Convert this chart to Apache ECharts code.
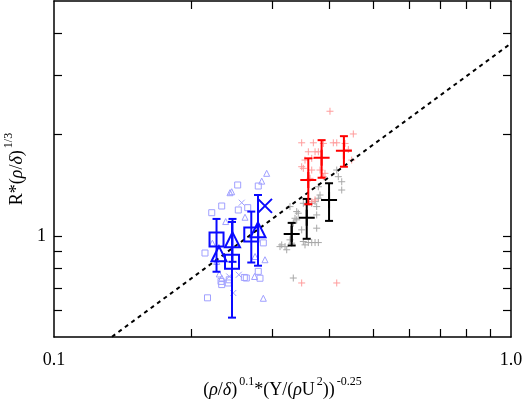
<!DOCTYPE html>
<html><head><meta charset="utf-8">
<script src="https://cdn.jsdelivr.net/npm/echarts@6/dist/echarts.min.js"></script>
<style>html,body{margin:0;padding:0;background:#fff}#c{width:525px;height:399px}</style>
</head><body><div id="c"></div>
<script>
// ---- axis settings ----
const xRange = [0.1, 1.0];
const yRange = [0.5, 5];
const xTickValues = [0.2, 0.3, 0.4, 0.5, 0.6, 0.7, 0.8, 0.9];
const yTickValues = [0.6, 0.7, 0.8, 0.9, 1, 2, 3, 4];
const xLabelValues = [0.1, 1.0];
const xLabelTexts = ['0.1', '1.0'];
const yLabelValues = [1];
const yLabelTexts = ['1'];

// ---- dashed fit line ----
const fitLine = [[0.1, 0.374], [1.0, 3.74]];

// ---- small light markers ----
const blueSmallSquares = [[0.2799,1.407],[0.2523,1.417],[0.2328,1.227],[0.2531,1.194],[0.2654,1.213],[0.2214,1.172],
  [0.214,0.889],[0.2871,0.953],[0.232,0.732],[0.2328,0.716],[0.2418,0.740],[0.2406,0.724],[0.2609,0.752],
  [0.2635,0.749],[0.2799,0.784],[0.2823,0.748],[0.2167,0.654]];
const blueSmallTriangles = [[0.292,1.535],[0.2848,1.455],[0.2427,1.344],[0.2448,1.353],[0.2618,1.136],[0.2375,1.103],
  [0.2221,0.951],[0.2895,0.849],[0.2754,0.868],[0.23,0.770],[0.2328,0.749],[0.2747,0.757],[0.2871,0.652],[0.227,0.839]];
const blueSmallCrosses = [[0.2575,1.255],[0.2418,0.757],[0.2537,0.766],[0.2468,0.676]];
const graySmallPlus = [[0.4262,1.449],[0.4262,1.369],[0.4189,1.500],[0.4156,1.570],[0.3788,1.400],[0.382,1.323],
  [0.3788,1.294],[0.3664,1.250],[0.3726,1.264],[0.3757,1.222],[0.3397,1.181],[0.3424,1.168],[0.3284,1.222],
  [0.3368,1.128],[0.3397,1.116],[0.3757,1.154],[0.3339,1.091],[0.3757,1.054],[0.3483,1.042],[0.315,0.940],
  [0.3203,0.929],[0.323,0.909],[0.3123,0.929],[0.3284,0.973],[0.3312,0.951],[0.3512,0.962],[0.3542,0.940],
  [0.3602,0.955],[0.3664,0.955],[0.3726,0.955],[0.3788,0.955],[0.3339,0.749],[0.3512,1.25],[0.3573,1.236]];
const redSmallPlus = [[0.4017,2.349],[0.4518,2.01],[0.3483,1.892],[0.3694,1.892],[0.3885,1.884],[0.4085,1.892],
  [0.4156,1.892],[0.4334,1.884],[0.3602,1.779],[0.3726,1.779],[0.3788,1.779],[0.4406,1.808],[0.3542,1.681],
  [0.3664,1.701],[0.4481,1.681],[0.3512,1.588],[0.3483,1.606],[0.3664,1.57],[0.382,1.57],[0.3917,1.535],
  [0.3885,1.5],[0.3602,1.466],[0.3633,1.483],[0.3664,1.264],[0.3726,1.279],[0.3483,0.724],[0.4156,0.724]];

// ---- binned markers with error bars: [x, low, high] ----
const blueSquares = [[0.2268,0.976],[0.2452,0.837],[0.2702,1.010]];
const blueTriangles = [[0.2296,0.884],[0.2458,0.973],[0.2795,1.042]];
const blueCrosses = [[0.2895,1.228]];
const blueErr = [[0.2268,0.782,1.123],[0.2452,0.571,1.100],[0.2702,0.833,1.181],[0.2458,0.837,1.123],[0.2795,0.815,1.323]];
const blackPlus = [[0.3312,1.012],[0.3573,1.133],[0.3998,1.279]];
const blackErr = [[0.3312,0.936,1.093],[0.3573,0.980,1.288],[0.3998,1.108,1.434]];
const redPlus = [[0.3601,1.466],[0.3851,1.708],[0.4309,1.791]];
const redErr = [[0.3601,1.242,1.701],[0.3851,1.489,1.927],[0.4309,1.606,1.980]];

const FONT = '"Liberation Serif", "Times New Roman", serif';
const PLUS = 'path://M5,0L5,10M0,5L10,5';
const CROSS = 'path://M0,0L10,10M10,0L0,10';

function scatter(name, data, symbol, size, color, lw, z) {
  return {type:'scatter', name, data, symbol, symbolSize:size, z, silent:true,
    itemStyle:{color:'rgba(0,0,0,0)', borderColor:color, borderWidth:lw, opacity:1}};
}
function errSeries(name, data, color, cap, z) {
  return {type:'custom', name, data, z, silent:true, encode:{x:0, y:[1,2]},
    renderItem:(params, api) => {
      const x = api.value(0), lo = api.value(1), hi = api.value(2);
      const p1 = api.coord([x, lo]), p2 = api.coord([x, hi]);
      const style = {stroke:color, lineWidth:2, fill:null};
      return {type:'group', children:[
        {type:'line', shape:{x1:p1[0], y1:p1[1], x2:p2[0], y2:p2[1]}, style},
        {type:'line', shape:{x1:p1[0]-cap, y1:p1[1], x2:p1[0]+cap, y2:p1[1]}, style},
        {type:'line', shape:{x1:p2[0]-cap, y1:p2[1], x2:p2[0]+cap, y2:p2[1]}, style}]};
    }};
}
const richStyle = {
  g:{fontFamily:FONT, fontSize:18, color:'#000', padding:[5,0,0,0]},
  i:{fontFamily:FONT, fontSize:18, color:'#000', fontStyle:'italic', padding:[5,0,0,0]},
  s:{fontFamily:FONT, fontSize:12, color:'#000', verticalAlign:'top', padding:[0,0,0,2]}
};
function mkX(pos, show) {
  return {type:'log', logBase:10, position:pos, min:xRange[0], max:xRange[1],
    axisLine:{show:true, onZero:false, lineStyle:{color:'#000', width:1.5}},
    axisTick:{show:true, inside:true, length:8, customValues:xTickValues, lineStyle:{color:'#000', width:1.2}},
    axisLabel:{show:show, customValues:xLabelValues, margin:14, fontFamily:FONT, fontSize:18, color:'#000',
      formatter:(v)=>{const i = xLabelValues.findIndex(t=>Math.abs(t-v)<1e-6); return i>=0?xLabelTexts[i]:'';}},
    splitLine:{show:false}, minorTick:{show:false},
    name: show ? '{g|(}{i|ρ}{g|/}{i|δ}{g|)}{s|0.1}{g|*(Y/(}{i|ρ}{g|U}{s|2}{g|))}{s|-0.25}' : '',
    nameLocation:'middle', nameGap:39,
    nameTextStyle:{fontFamily:FONT, fontSize:18, color:'#000', rich:richStyle}};
}
function mkY(pos, show) {
  return {type:'log', logBase:10, position:pos, min:yRange[0], max:yRange[1],
    axisLine:{show:true, onZero:false, lineStyle:{color:'#000', width:1.5}},
    axisTick:{show:true, inside:true, length:8, customValues:yTickValues, lineStyle:{color:'#000', width:1.2}},
    axisLabel:{show:show, customValues:yLabelValues, margin:8, fontFamily:FONT, fontSize:18, color:'#000',
      formatter:(v)=>{const i = yLabelValues.findIndex(t=>Math.abs(t-v)<1e-6); return i>=0?yLabelTexts[i]:'';}},
    splitLine:{show:false}, minorTick:{show:false},
    name: show ? '{g|R*(}{i|ρ}{g|/}{i|δ}{g|)}{s|1/3}' : '',
    nameLocation:'middle', nameGap:25, nameRotate:90,
    nameTextStyle:{fontFamily:FONT, fontSize:18, color:'#000', rich:richStyle}};
}

const chart = echarts.init(document.getElementById('c'), null, {renderer:'canvas'});
chart.setOption({
  animation:false,
  backgroundColor:'#fff',
  grid:{left:54, right:14, top:1, bottom:62, containLabel:false, outerBoundsMode:'none'},
  xAxis:[mkX('bottom', true), mkX('top', false)],
  yAxis:[mkY('left', true), mkY('right', false)],
  series:[
    scatter('bsq', blueSmallSquares, 'rect', 6, '#a0a0ff', 1, 2),
    scatter('btr', blueSmallTriangles, 'triangle', 6, '#a0a0ff', 1, 2),
    scatter('bx', blueSmallCrosses, CROSS, 6, '#a0a0ff', 1, 2),
    scatter('gp', graySmallPlus, PLUS, 7, '#a8a8a8', 1, 2),
    scatter('rp', redSmallPlus, PLUS, 7, '#ff9c9c', 1, 2),
    {type:'line', data:fitLine, symbol:'none', z:3, silent:true, clip:true,
      lineStyle:{color:'#000', width:2, type:[4,4]}},
    errSeries('be', blueErr, '#0a0aff', 4, 4),
    errSeries('ke', blackErr, '#000', 4, 4),
    errSeries('re', redErr, '#ff0000', 4, 4),
    scatter('BSQ', blueSquares, 'rect', 14, '#0a0aff', 2, 5),
    scatter('BTR', blueTriangles, 'triangle', 15, '#0a0aff', 2, 5),
    scatter('BX', blueCrosses, CROSS, 14, '#0a0aff', 2, 5),
    scatter('KP', blackPlus, PLUS, 16, '#000', 2, 5),
    scatter('RP', redPlus, PLUS, 16, '#ff0000', 2, 5)
  ]
});
</script></body></html>
